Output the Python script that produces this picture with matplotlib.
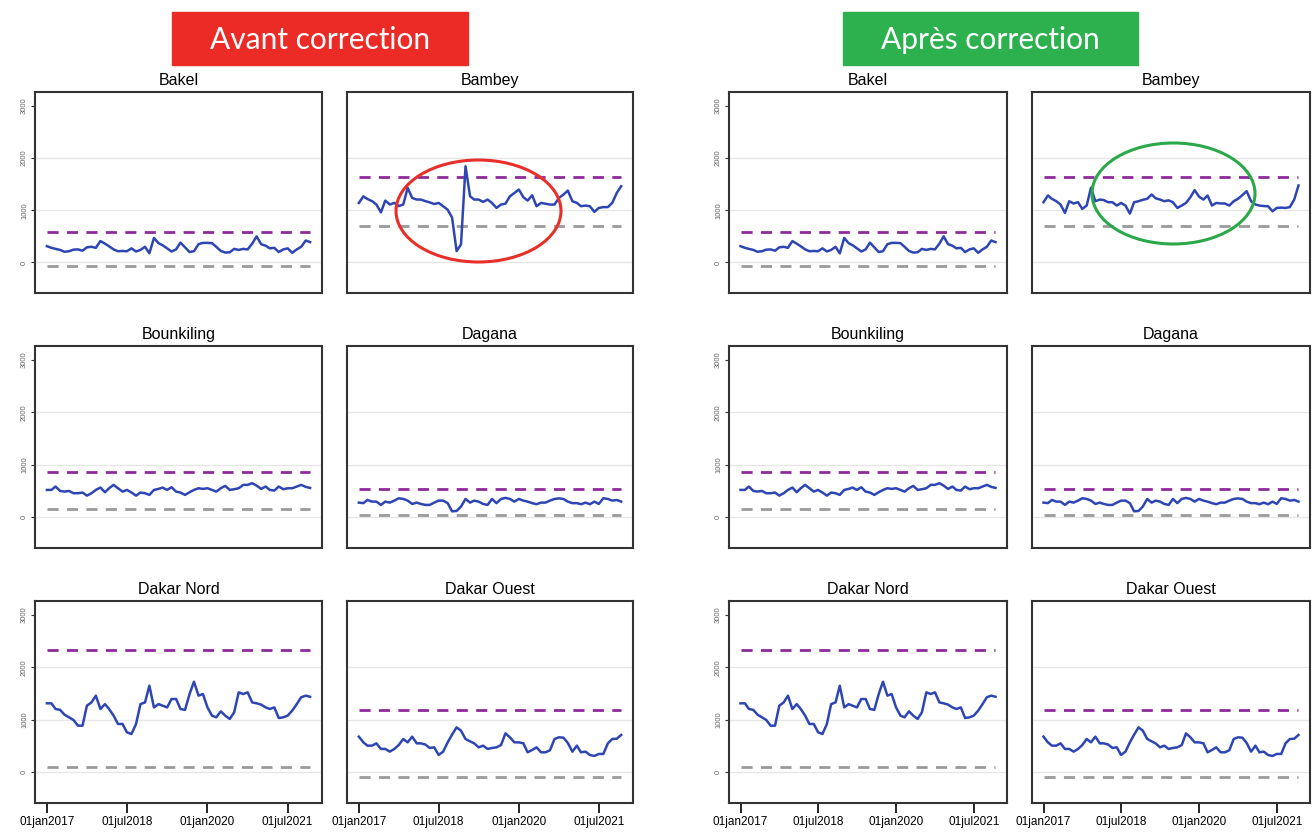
import numpy as np
import pandas as pd
import matplotlib
matplotlib.use("Agg")
import matplotlib.pyplot as plt
from matplotlib.patches import Rectangle, Ellipse

plt.rcParams['font.family'] = ['Liberation Sans', 'DejaVu Sans']

# monthly series, jan 2017 -> dec 2021
dates = pd.date_range('2017-01-01', periods=60, freq='MS')
xtick_dates = pd.to_datetime(['2017-01-01', '2018-07-01', '2020-01-01', '2021-07-01'])
xtick_labels = ['01jan2017', '01jul2018', '01jan2020', '01jul2021']
yticks = [0, 1000, 2000, 3000]

bakel = [312, 280, 260, 240, 205, 215, 245, 250, 225, 290,
         300, 280, 410, 360, 310, 250, 215, 220, 215, 270,
         210, 240, 300, 175, 470, 370, 330, 270, 210, 250,
         380, 290, 200, 215, 350, 375, 375, 370, 300, 220,
         190, 195, 260, 240, 260, 250, 360, 500, 350, 320,
         270, 280, 200, 250, 270, 185, 250, 300, 420, 390]
bambey_avant = [1140, 1265, 1215, 1175, 1110, 960, 1185, 1110, 1140, 1080,
                1110, 1430, 1236, 1205, 1205, 1175, 1150, 1120, 1140, 1077,
                1010, 860, 217, 344, 1842, 1268, 1205, 1205, 1160, 1205,
                1140, 1045, 1110, 1125, 1268, 1330, 1396, 1250, 1185, 1287,
                1077, 1141, 1125, 1109, 1109, 1236, 1300, 1377, 1173, 1141,
                1077, 1090, 1077, 969, 1045, 1060, 1060, 1141, 1332, 1460]
bambey_apres = [1154, 1283, 1219, 1173, 1110, 949, 1173, 1129, 1154, 1026,
                1090, 1430, 1173, 1205, 1195, 1154, 1154, 1090, 1140, 1090,
                936, 1154, 1173, 1200, 1219, 1302, 1230, 1205, 1173, 1190,
                1154, 1045, 1090, 1140, 1250, 1385, 1260, 1205, 1283, 1090,
                1140, 1130, 1129, 1090, 1173, 1219, 1290, 1365, 1173, 1110,
                1090, 1080, 1077, 980, 1045, 1050, 1045, 1060, 1205, 1475]
bounkiling = [522, 522, 586, 503, 490, 503, 459, 459, 472, 413,
              459, 522, 567, 478, 554, 618, 554, 490, 522, 472,
              413, 472, 459, 427, 522, 541, 567, 522, 573, 490,
              472, 427, 478, 522, 554, 541, 554, 522, 490, 554,
              599, 522, 535, 554, 618, 618, 650, 605, 541, 586,
              522, 510, 586, 535, 554, 554, 586, 618, 580, 560]
dagana = [280, 270, 331, 299, 299, 236, 299, 280, 318, 363,
          350, 318, 255, 280, 255, 236, 236, 280, 318, 318,
          270, 114, 121, 204, 350, 280, 318, 299, 255, 236,
          350, 270, 350, 370, 350, 299, 350, 318, 299, 270,
          250, 280, 280, 318, 350, 360, 350, 299, 270, 270,
          250, 280, 250, 299, 255, 363, 350, 318, 330, 300]
dakar_nord = [1315, 1315, 1207, 1190, 1098, 1048, 998, 889, 889, 1270,
              1332, 1461, 1207, 1300, 1207, 1080, 921, 921, 762, 730,
              921, 1300, 1332, 1650, 1237, 1300, 1270, 1237, 1397, 1397,
              1207, 1190, 1492, 1727, 1461, 1492, 1237, 1080, 1048, 1162,
              1080, 1017, 1143, 1524, 1492, 1524, 1332, 1315, 1290, 1237,
              1207, 1237, 1035, 1048, 1080, 1175, 1300, 1430, 1461, 1440]
dakar_ouest = [680, 571, 508, 508, 552, 445, 445, 394, 445, 520,
               635, 571, 680, 552, 552, 530, 464, 476, 331, 394,
               571, 718, 857, 794, 635, 590, 552, 476, 508, 445,
               464, 476, 520, 742, 667, 571, 571, 552, 381, 426,
               476, 381, 381, 420, 635, 667, 660, 560, 394, 508,
               381, 394, 330, 312, 350, 350, 552, 635, 640, 712]

names = ['Bakel', 'Bambey', 'Bounkiling', 'Dagana', 'Dakar Nord', 'Dakar Ouest']
upper = [575, 1635, 860, 535, 2325, 1185]
lower = [-70, 705, 160, 45, 95, -95]
series_avant = [bakel, bambey_avant, bounkiling, dagana, dakar_nord, dakar_ouest]
series_apres = [bakel, bambey_apres, bounkiling, dagana, dakar_nord, dakar_ouest]

W, H = 1316, 832
fig = plt.figure(figsize=(W / 100, H / 100), dpi=100)


def ax_px(l, t, r, b):
    return fig.add_axes([l / W, 1 - b / H, (r - l) / W, (b - t) / H])


cols_px = [[(35, 322), (347, 633)], [(729, 1007), (1032, 1310)]]
rows_px = [(92, 293), (346, 548), (601, 803)]
groups = [series_avant, series_apres]

for g in range(2):
    for i in range(6):
        r, c = i // 2, i % 2
        l, rr = cols_px[g][c]
        t, b = rows_px[r]
        ax = ax_px(l, t, rr, b)
        for yy in [0, 1000, 2000]:
            ax.axhline(yy, color='#e6e6e6', lw=0.9, zorder=0)
        ax.hlines(upper[i], dates[0], dates[-1], colors='#8e2a9c', linestyles=(0, (4, 3)), lw=2)
        ax.hlines(lower[i], dates[0], dates[-1], colors='#9a9a9a', linestyles=(0, (4, 3)), lw=2)
        ax.plot(dates, groups[g][i], color='#2e46b4', lw=1.8)
        ax.set_xlim(pd.Timestamp('2016-10-12'), pd.Timestamp('2022-02-20'))
        ax.set_ylim(-585, 3265)
        ax.set_title(names[i], fontsize=11.5, pad=5)
        for s in ax.spines.values():
            s.set_color('#333333')
            s.set_linewidth(1.5)
        if c == 0:
            ax.set_yticks(yticks)
            ax.set_yticklabels([str(v) for v in yticks], rotation=90, va='center',
                               fontsize=5.5, color='#666666')
            ax.tick_params(axis='y', length=3, width=0.8, color='#333333', pad=2)
        else:
            ax.set_yticks([])
        if r == 2:
            ax.set_xticks(xtick_dates)
            ax.set_xticklabels(xtick_labels, fontsize=8.5)
            ax.tick_params(axis='x', length=7, width=1.2, pad=2)
        else:
            ax.set_xticks([])

# banners
fig.patches.append(Rectangle((172 / W, 1 - 65 / H), 296 / W, 53 / H,
                             transform=fig.transFigure, color='#ec2a26'))
fig.patches.append(Rectangle((843 / W, 1 - 65 / H), 295 / W, 53 / H,
                             transform=fig.transFigure, color='#2db14f'))
fig.text(320 / W, 1 - 40 / H, 'Avant correction', color='white', fontsize=21.5,
         family='Lato', ha='center', va='center')
fig.text(990 / W, 1 - 40 / H, 'Après correction', color='white', fontsize=21.5,
         family='Lato', ha='center', va='center')

# highlight ellipses
fig.patches.append(Ellipse((478.5 / W, 1 - 211 / H), 165 / W, 102 / H,
                           transform=fig.transFigure, fill=False,
                           edgecolor='#e8302a', lw=2.2, zorder=10))
fig.patches.append(Ellipse((1173.5 / W, 1 - 193.5 / H), 163 / W, 101 / H,
                           transform=fig.transFigure, fill=False,
                           edgecolor='#2aa84a', lw=2.2, zorder=10))

fig.savefig('out.png', dpi=100)
